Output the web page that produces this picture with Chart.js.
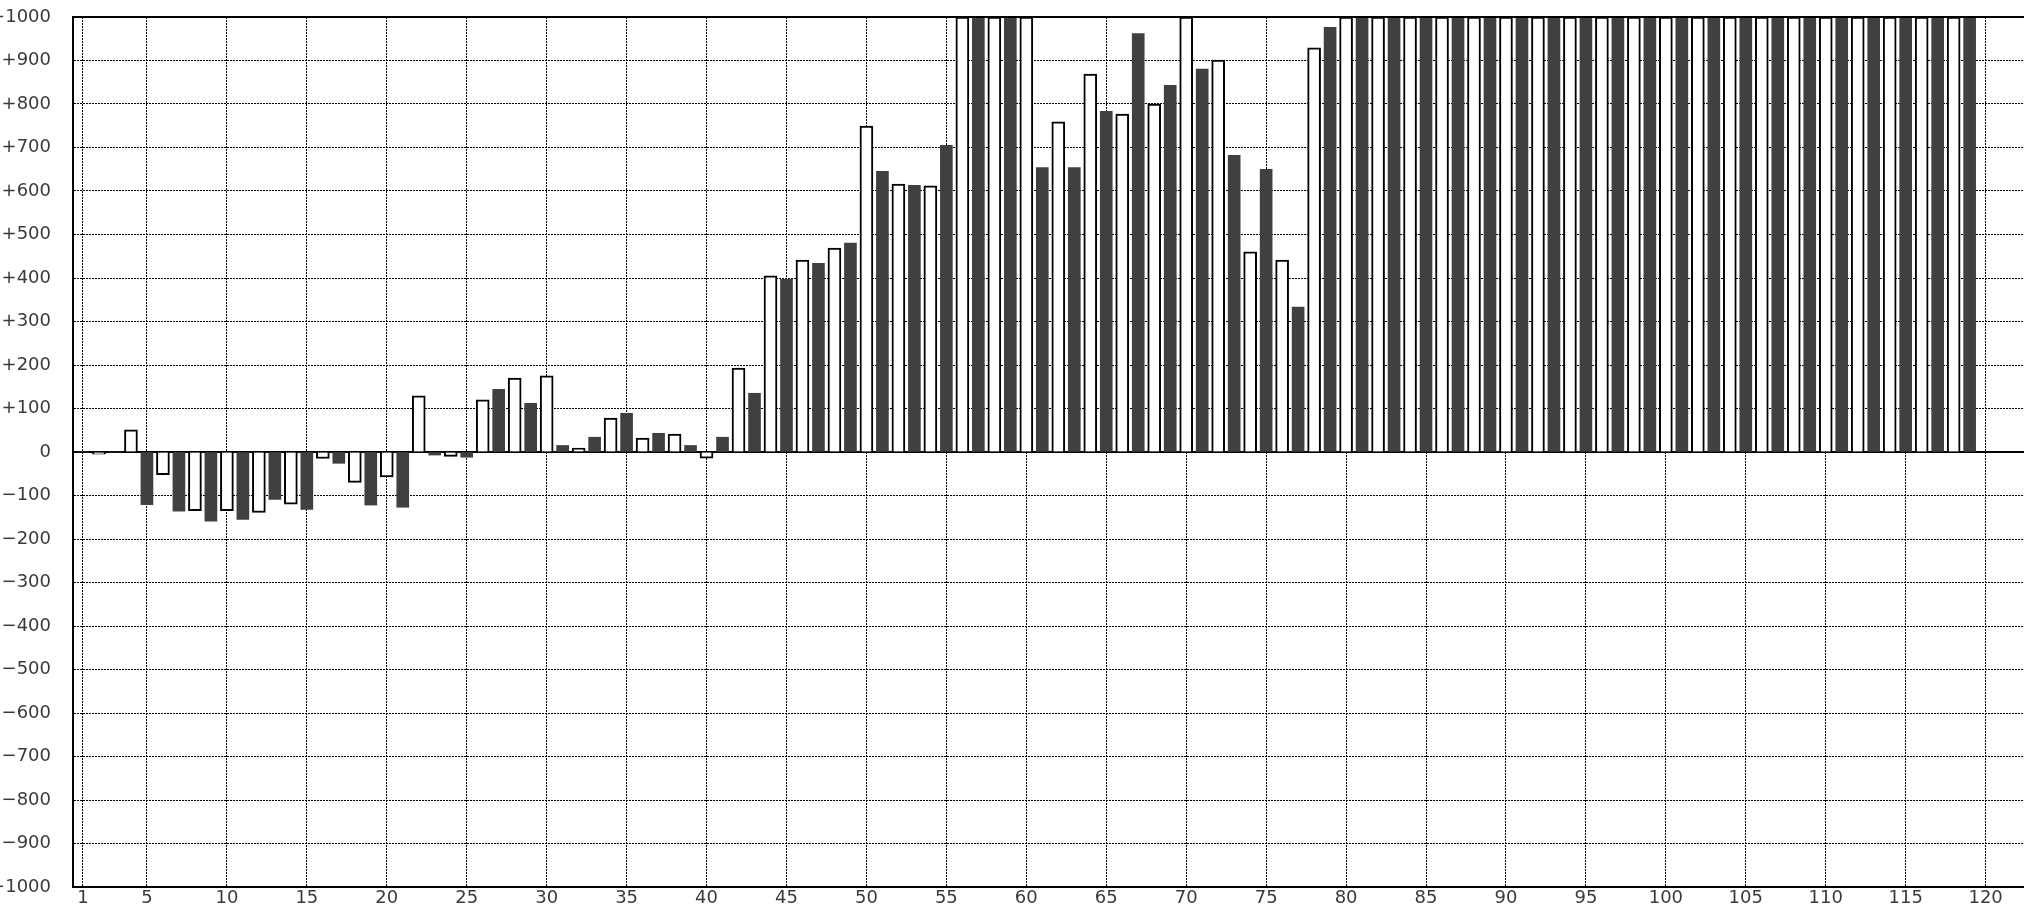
<!DOCTYPE html>
<html>
<head>
<meta charset="utf-8">
<title>Bar chart</title>
<script src="https://cdn.jsdelivr.net/npm/chart.js@4.4.1/dist/chart.umd.min.js"></script>
<style>
  html, body { margin: 0; padding: 0; background: #fff; }
</style>
</head>
<body>
<canvas id="barChart" width="2024" height="906"></canvas>
<script>
// white bars sit on the even positions, dark bars on the odd ones
const whiteX = [2, 4, 6, 8, 10, 12, 14, 16, 18, 20, 22, 24, 26, 28, 30, 32, 34, 36, 38, 40,
    42, 44, 46, 48, 50, 52, 54, 56, 58, 60, 62, 64, 66, 68, 70, 72, 74, 76, 78, 80,
    82, 84, 86, 88, 90, 92, 94, 96, 98, 100, 102, 104, 106, 108, 110, 112, 114, 116, 118];
const whiteValues = [-5, 51, -52, -135, -135, -139, -120, -15, -70, -57, 129, -10, 120, 170, 175, 9, 78, 32, 41, -14,
    193, 405, 441, 469, 749, 616, 612, 1000, 1000, 1000, 759, 869, 777, 800, 1000, 901, 460, 441, 929, 1000,
    1000, 1000, 1000, 1000, 1000, 1000, 1000, 1000, 1000, 1000, 1000, 1000, 1000, 1000, 1000, 1000, 1000, 1000, 1000];

const darkX = [1, 3, 5, 7, 9, 11, 13, 15, 17, 19, 21, 23, 25, 27, 29, 31, 33, 35, 37, 39,
    41, 43, 45, 47, 49, 51, 53, 55, 57, 59, 61, 63, 65, 67, 69, 71, 73, 75, 77, 79,
    81, 83, 85, 87, 89, 91, 93, 95, 97, 99, 101, 103, 105, 107, 109, 111, 113, 115, 117, 119];
const darkValues = [0, 0, -121, -136, -159, -155, -109, -132, -26, -122, -127, -7, -12, 144, 112, 15, 34, 89, 43, 15,
    34, 135, 397, 434, 480, 645, 613, 705, 1000, 1000, 654, 654, 783, 962, 843, 880, 682, 650, 333, 976,
    1000, 1000, 1000, 1000, 1000, 1000, 1000, 1000, 1000, 1000, 1000, 1000, 1000, 1000, 1000, 1000, 1000, 1000, 1000, 1000];

const xTicks = [1, 5, 10, 15, 20, 25, 30, 35, 40, 45, 50, 55, 60, 65, 70, 75, 80, 85, 90, 95, 100, 105, 110, 115, 120];

const tickFont = { family: "DejaVu Sans", size: 18 };
const tickColor = "#3a3a3a";
const gridDash = [2, 1];

function toPoints(xs, ys) {
    return xs.map((x, i) => ({ x: x, y: ys[i] }));
}

function signedLabel(v) {
    if (v > 0) return "+" + v;
    if (v < 0) return "\u2212" + Math.abs(v);
    return "0";
}

// solid zero line under the bars, top frame line over them
const framePlugin = {
    id: "frame",
    beforeDatasetsDraw(chart) {
        const { ctx, chartArea, scales } = chart;
        const y0 = scales.y.getPixelForValue(0);
        ctx.save();
        ctx.strokeStyle = "#000";
        ctx.lineWidth = 2;
        ctx.beginPath();
        ctx.moveTo(chartArea.left, y0);
        ctx.lineTo(chartArea.right, y0);
        ctx.stroke();
        ctx.restore();
    },
    afterDatasetsDraw(chart) {
        const { ctx, chartArea } = chart;
        ctx.save();
        ctx.strokeStyle = "#000";
        ctx.lineWidth = 2;
        ctx.beginPath();
        ctx.moveTo(chartArea.left, chartArea.top);
        ctx.lineTo(chartArea.right, chartArea.top);
        ctx.stroke();
        ctx.restore();
    }
};

const ctx = document.getElementById("barChart").getContext("2d");
new Chart(ctx, {
    type: "bar",
    data: {
        datasets: [{
            data: toPoints(whiteX, whiteValues),
            backgroundColor: "#ffffff",
            borderColor: "#000000",
            borderWidth: 2,
            barThickness: 13,
            grouped: false
        }, {
            data: toPoints(darkX, darkValues),
            backgroundColor: "#404040",
            borderWidth: 0,
            barThickness: 12,
            grouped: false
        }]
    },
    options: {
        responsive: false,
        animation: false,
        devicePixelRatio: 1,
        layout: { padding: { top: 17, left: 0, right: 0, bottom: 0 } },
        plugins: {
            legend: { display: false },
            tooltip: { enabled: false }
        },
        scales: {
            x: {
                type: "linear",
                min: 0.375,
                max: 122.4,
                offset: false,
                afterBuildTicks: (scale) => {
                    scale.ticks = xTicks.map(v => ({ value: v }));
                },
                afterFit: (scale) => { scale.height = 19; },
                ticks: {
                    autoSkip: false,
                    maxRotation: 0,
                    padding: 1,
                    color: tickColor,
                    font: tickFont
                },
                grid: { offset: false, color: "#000", lineWidth: 1, drawTicks: false },
                border: { color: "#000", width: 2, dash: gridDash }
            },
            y: {
                min: -1000,
                max: 1000,
                afterFit: (scale) => { scale.width = 73; },
                ticks: {
                    stepSize: 100,
                    padding: 0,
                    color: tickColor,
                    font: tickFont,
                    callback: signedLabel
                },
                grid: {
                    color: (c) => (c.tick && c.tick.value === 0) ? "rgba(0,0,0,0)" : "#000",
                    lineWidth: 1,
                    drawTicks: true,
                    tickLength: 22,
                    tickColor: "rgba(0,0,0,0)"
                },
                border: { color: "#000", width: 2, dash: gridDash }
            }
        }
    },
    plugins: [framePlugin]
});
</script>
</body>
</html>
